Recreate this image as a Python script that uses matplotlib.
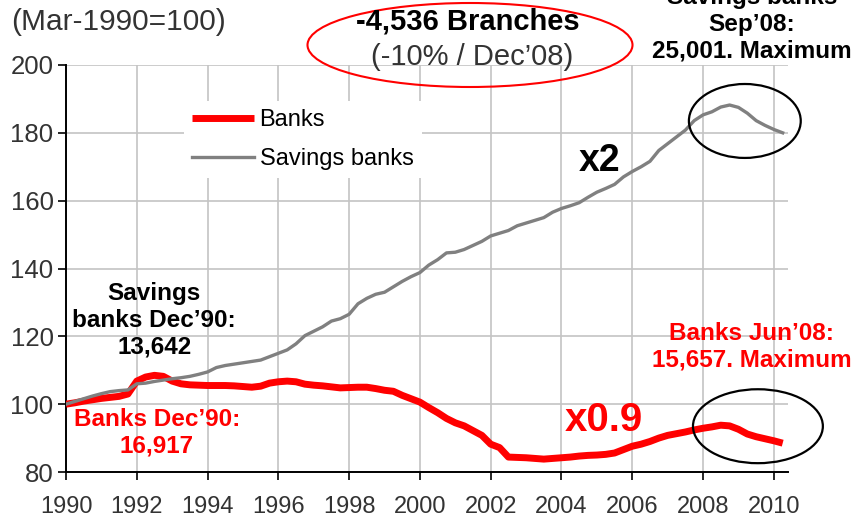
import numpy as np
import matplotlib
matplotlib.use("Agg")
import matplotlib.pyplot as plt
from matplotlib.patches import Ellipse

plt.rcParams['font.family'] = ['Liberation Sans', 'DejaVu Sans']

# quarterly index, Mar-1990 = 100
quarters = np.arange(1990.0, 2010.3, 0.25)

banks = [
    100.0, 100.4, 100.9, 101.3, 101.7, 102.0, 102.3, 103.0,
    106.8, 108.0, 108.5, 108.2, 106.8, 106.0, 105.7, 105.6,
    105.5, 105.5, 105.5, 105.4, 105.2, 105.0, 105.3, 106.2,
    106.6, 106.8, 106.6, 105.9, 105.6, 105.4, 105.1, 104.8,
    104.9, 105.0, 105.0, 104.6, 104.1, 103.8, 102.6, 101.6,
    100.6, 99.0, 97.5, 95.8, 94.5, 93.6, 92.2, 90.8,
    88.2, 87.2, 84.4, 84.3, 84.2, 84.0, 83.8, 84.0,
    84.2, 84.4, 84.7, 84.9, 85.0, 85.2, 85.6, 86.6,
    87.6, 88.2, 89.0, 90.0, 90.8, 91.3, 91.8, 92.4,
    92.9, 93.3, 93.8, 93.6, 92.6, 91.2, 90.4, 89.8,
    89.2, 88.5,
]

savings_banks = [
    100.0, 100.8, 101.6, 102.4, 103.1, 103.7, 104.0, 104.2,
    106.0, 106.2, 106.7, 107.1, 107.5, 107.8, 108.2, 108.8,
    109.5, 110.8, 111.4, 111.8, 112.2, 112.6, 113.0, 114.0,
    115.0, 116.0, 117.8, 120.2, 121.5, 122.8, 124.5, 125.2,
    126.5, 129.6, 131.2, 132.4, 133.0, 134.6, 136.2, 137.6,
    138.8, 141.0, 142.6, 144.6, 144.8, 145.6, 146.8, 148.0,
    149.6, 150.4, 151.2, 152.6, 153.4, 154.2, 155.0, 156.6,
    157.7, 158.5, 159.4, 161.0, 162.5, 163.6, 164.8, 167.0,
    168.6, 170.0, 171.6, 174.8, 176.8, 178.8, 180.8, 183.6,
    185.3, 186.2, 187.6, 188.2, 187.5, 185.8, 183.6, 182.2,
    181.0, 180.0,
]

year_ticks = [1990, 1992, 1994, 1996, 1998, 2000, 2002, 2004, 2006, 2008, 2010]
value_ticks = [80, 100, 120, 140, 160, 180, 200]

RED = "#ff0000"
GREY = "#808080"
DARK = "#333333"

W, H = 855, 519
fig = plt.figure(figsize=(W / 100, H / 100), dpi=100)
ax = fig.add_axes([66 / W, 1 - 472 / H, (788 - 66) / W, (472 - 65) / H])


def px(x, y):
    # pixel position -> figure fraction
    return x / W, 1 - y / H


ax.plot(quarters, banks, color=RED, lw=5.0, solid_capstyle="butt", label="Banks", zorder=3)
ax.plot(quarters, savings_banks, color=GREY, lw=2.4, label="Savings banks", zorder=3)

ax.set_xlim(1990, 2010.4)
ax.set_ylim(80, 200)
ax.set_xticks(year_ticks)
ax.set_yticks(value_ticks)
ax.tick_params(axis="x", labelsize=17, length=6, width=1.2, pad=11)
ax.tick_params(axis="y", labelsize=18.5, length=6, width=1.2, pad=3)
ax.tick_params(axis="both", color="black", labelcolor=DARK)

ax.grid(True, color="#c4c4c4", lw=1.2)
ax.set_axisbelow(True)
for s in ("top", "right"):
    ax.spines[s].set_visible(False)
for s in ("left", "bottom"):
    ax.spines[s].set_linewidth(1.4)
    ax.spines[s].set_color("black")

leg = ax.legend(loc="upper left", bbox_to_anchor=px(184, 101), bbox_transform=fig.transFigure,
                frameon=True, fancybox=False, edgecolor="none", facecolor="white", framealpha=1,
                fontsize=17, handlelength=2.6, handletextpad=0.25, labelspacing=0.7,
                borderpad=0.35, borderaxespad=0)
for t in leg.get_texts():
    t.set_color("black")

# header texts
fig.text(*px(11, 22), "(Mar-1990=100)", fontsize=21.5, color=DARK, va="center", ha="left")
fig.text(*px(468, 22), "-4,536 Branches", fontsize=21, fontweight="bold", color="black",
         va="center", ha="center")
fig.text(*px(472, 57), "(-10% / Dec\u201908)", fontsize=21, color=DARK, va="center", ha="center")
fig.patches.append(Ellipse(px(470, 45), 325 / W, 84 / H, transform=fig.transFigure,
                           fill=False, edgecolor=RED, lw=1.5))

fig.text(*px(752, 24), "Savings banks\nSep\u201908:\n25,001. Maximum", fontsize=17.5,
         fontweight="bold", color="black", va="center", ha="center", linespacing=1.22)

# annotations inside the plot
ax.text(1992.49, 124.7, "Savings\nbanks Dec\u201990:\n13,642", fontsize=17.5, fontweight="bold",
        color="black", ha="center", va="center", linespacing=1.2)
ax.text(1992.57, 91.6, "Banks Dec\u201990:\n16,917", fontsize=17.5, fontweight="bold",
        color=RED, ha="center", va="center", linespacing=1.2)
ax.text(2005.08, 171.8, "x2", fontsize=27, fontweight="bold", color="black",
        ha="center", va="center")
ax.text(2005.2, 95.3, "x0.9", fontsize=29, fontweight="bold", color=RED,
        ha="center", va="center")
ax.text(2009.38, 116.9, "Banks Jun\u201908:\n15,657. Maximum", fontsize=17.5, fontweight="bold",
        color=RED, ha="center", va="center", linespacing=1.2, clip_on=False)

ax.add_patch(Ellipse((2009.18, 183.5), 3.16, 21.8, fill=False, edgecolor="black", lw=1.6,
                     clip_on=False, zorder=4))
ax.add_patch(Ellipse((2009.55, 93.5), 3.67, 21.8, fill=False, edgecolor="black", lw=1.6,
                     clip_on=False, zorder=4))

fig.savefig("out.png", dpi=100)
